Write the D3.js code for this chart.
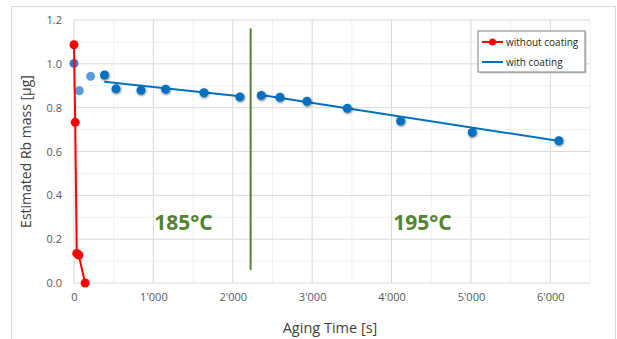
<!DOCTYPE html>
<html>
<head>
<meta charset="utf-8">
<script src="https://cdn.jsdelivr.net/npm/d3@7"></script>
<style>
  body { margin: 0; background: #fff; }
  text { font-family: "Open Sans", sans-serif; }
</style>
</head>
<body>
<div id="chart"></div>
<script>
let width = 617;
let height = 339;

// without coating (red)
const redTime = [0, 15, 35, 60, 140];
const redMass = [1.087, 0.733, 0.135, 0.128, 0.0];

// with coating measurements
const blueTime = [0, 67, 210, 385, 529, 844, 1155, 1637, 2090, 2359, 2594, 2935, 3443, 4115, 5017, 6108];
const blueMass = [1.002, 0.877, 0.943, 0.949, 0.886, 0.880, 0.884, 0.868, 0.849, 0.856, 0.847, 0.829, 0.797, 0.739, 0.687, 0.649];
const blueKind = ['a', 'b', 'b', 'c', 'c', 'c', 'c', 'c', 'c', 'c', 'c', 'c', 'c', 'c', 'c', 'c'];

// fitted trend lines (with coating)
const fit185 = [[382, 0.918], [2090, 0.852]];
const fit195 = [[2359, 0.858], [6108, 0.648]];

// temperature change marker
const switchTime = 2225;
const switchRange = [0.06, 1.162];

const xTicks = [0, 1000, 2000, 3000, 4000, 5000, 6000];
const yTicks = [0, 0.2, 0.4, 0.6, 0.8, 1.0, 1.2];

let margin = {left: 74, right: 27, top: 20, bottom: 56};

let svg = d3.select('#chart')
            .append('svg')
            .attr('width', width)
            .attr('height', height);

let defs = svg.append('defs');
let f = defs.append('filter').attr('id', 'shadow')
            .attr('x', '-50%').attr('y', '-50%').attr('width', '200%').attr('height', '200%');
f.append('feDropShadow').attr('dx', 0.5).attr('dy', 1).attr('stdDeviation', 1)
 .attr('flood-color', '#000').attr('flood-opacity', 0.55);

// chart frame
svg.append('rect')
   .attr('x', 11.5).attr('y', 6.5)
   .attr('width', 604).attr('height', 340)
   .attr('fill', 'none').attr('stroke', '#d9d9d9');

let x = d3.scaleLinear().domain([0, 6500]).range([margin.left, width - margin.right]);
let y = d3.scaleLinear().domain([0, 1.2]).range([height - margin.bottom, margin.top]);

// minor gridlines
let grid = svg.append('g');
grid.selectAll('.vminor')
    .data(d3.range(500, 6501, 1000))
    .enter().append('line')
    .attr('x1', d => x(d)).attr('x2', d => x(d))
    .attr('y1', y(0)).attr('y2', y(1.2))
    .attr('stroke', '#f0f0f0');
grid.selectAll('.hminor')
    .data(d3.range(0.1, 1.2, 0.2))
    .enter().append('line')
    .attr('x1', x(0)).attr('x2', x(6500))
    .attr('y1', d => y(d)).attr('y2', d => y(d))
    .attr('stroke', '#f0f0f0');
// major gridlines
grid.selectAll('.vmajor')
    .data(d3.range(0, 6501, 1000))
    .enter().append('line')
    .attr('x1', d => x(d)).attr('x2', d => x(d))
    .attr('y1', y(0)).attr('y2', y(1.2))
    .attr('stroke', '#d9d9d9');
grid.selectAll('.hmajor')
    .data(yTicks)
    .enter().append('line')
    .attr('x1', x(0)).attr('x2', x(6500))
    .attr('y1', d => y(d)).attr('y2', d => y(d))
    .attr('stroke', '#d9d9d9');

// axes labels
let fmtX = d => d === 0 ? '0' : d3.format(',')(d).replace(/,/g, "'");
let xAxis = svg.append('g')
    .attr('transform', 'translate(0,' + y(0) + ')')
    .call(d3.axisBottom(x).tickValues(xTicks).tickSize(0).tickPadding(10).tickFormat(fmtX));
xAxis.select('.domain').remove();
xAxis.selectAll('text').attr('font-size', 11).attr('fill', '#595959')
     .style('font-family', '"Open Sans", sans-serif');

let yAxis = svg.append('g')
    .attr('transform', 'translate(' + x(0) + ',0)')
    .call(d3.axisLeft(y).tickValues(yTicks).tickSize(0).tickPadding(12).tickFormat(d3.format('.1f')));
yAxis.select('.domain').remove();
yAxis.selectAll('text').attr('font-size', 11).attr('fill', '#595959')
     .style('font-family', '"Open Sans", sans-serif');

svg.append('text')
   .attr('transform', 'translate(31,' + ((y(0) + y(1.2)) / 2) + ') rotate(-90)')
   .attr('text-anchor', 'middle')
   .attr('font-size', 14).attr('fill', '#404040')
   .text('Estimated Rb mass [µg]');

svg.append('text')
   .attr('x', 330).attr('y', 333)
   .attr('text-anchor', 'middle')
   .attr('font-size', 14.5).attr('fill', '#404040')
   .text('Aging Time [s]');

// temperature marker and labels
svg.append('line')
   .attr('x1', x(switchTime)).attr('x2', x(switchTime))
   .attr('y1', y(switchRange[0])).attr('y2', y(switchRange[1]))
   .attr('stroke', '#548235').attr('stroke-width', 2);

svg.append('text')
   .attr('x', x(1380)).attr('y', 230)
   .attr('text-anchor', 'middle')
   .attr('font-size', 21).attr('font-weight', 'bold').attr('fill', '#548235')
   .text('185°C');
svg.append('text')
   .attr('x', x(4390)).attr('y', 230)
   .attr('text-anchor', 'middle')
   .attr('font-size', 21).attr('font-weight', 'bold').attr('fill', '#548235')
   .text('195°C');

// with coating trend lines
let line = d3.line().x(d => x(d[0])).y(d => y(d[1]));
[fit185, fit195].forEach(function(seg) {
    svg.append('path')
       .attr('d', line(seg))
       .attr('fill', 'none')
       .attr('stroke', '#0070c0')
       .attr('stroke-width', 2);
});

// with coating points
let blueColor = {a: '#4472c4', b: '#5b9bd5', c: '#0070c0'};
svg.append('g').selectAll('circle')
   .data(blueTime.map((t, i) => ({t: t, m: blueMass[i], k: blueKind[i]})))
   .enter().append('circle')
   .attr('cx', d => x(d.t)).attr('cy', d => y(d.m))
   .attr('r', 4.5)
   .attr('fill', d => blueColor[d.k])
   .attr('filter', d => d.k === 'c' ? 'url(#shadow)' : null);

// without coating
let redData = redTime.map((t, i) => [t, redMass[i]]);
svg.append('path')
   .attr('d', line(redData))
   .attr('fill', 'none')
   .attr('stroke', '#ff0000')
   .attr('stroke-width', 2);
svg.append('g').selectAll('circle')
   .data(redData)
   .enter().append('circle')
   .attr('cx', d => x(d[0])).attr('cy', d => y(d[1]))
   .attr('r', 4.5)
   .attr('fill', '#ff0000');

// legend
let legend = svg.append('g').attr('transform', 'translate(478,31)');
legend.append('rect')
      .attr('x', 1.5).attr('y', 1.5).attr('width', 107).attr('height', 41)
      .attr('fill', '#d0d0d0');
legend.append('rect')
      .attr('width', 107).attr('height', 41)
      .attr('fill', '#fff').attr('stroke', '#808080');
legend.append('line')
      .attr('x1', 4).attr('x2', 25).attr('y1', 11).attr('y2', 11)
      .attr('stroke', '#ff0000').attr('stroke-width', 2);
legend.append('circle')
      .attr('cx', 14.5).attr('cy', 11).attr('r', 3.5).attr('fill', '#ff0000');
legend.append('text')
      .attr('x', 28).attr('y', 14.5)
      .attr('font-size', 10).attr('fill', '#262626')
      .text('without coating');
legend.append('line')
      .attr('x1', 4).attr('x2', 25).attr('y1', 31).attr('y2', 31)
      .attr('stroke', '#0070c0').attr('stroke-width', 2);
legend.append('text')
      .attr('x', 28).attr('y', 34.5)
      .attr('font-size', 10).attr('fill', '#262626')
      .text('with coating');
</script>
</body>
</html>
